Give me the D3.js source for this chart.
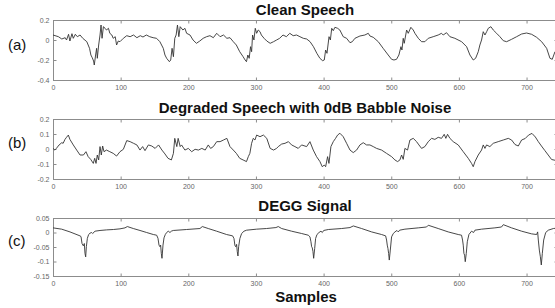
<!DOCTYPE html>
<html>
<head>
<meta charset="utf-8">
<script src="https://cdn.jsdelivr.net/npm/d3@7"></script>
<style>
body { margin: 0; background: #fff; }
svg { display: block; }
text { font-family: "Liberation Sans", Arial, sans-serif; }
</style>
</head>
<body>
<svg id="chart" width="555" height="308"></svg>
<script>
//////////////////////////////////////////////////
// data : [sample, amplitude]

var sampleDomain = [0, 745];
var xTicks = [0, 100, 200, 300, 400, 500, 600, 700];

var cleanTicks = [-0.4, -0.2, 0, 0.2];
var degradedTicks = [-0.2, -0.1, 0, 0.1, 0.2];
var deggTicks = [-0.15, -0.1, -0.05, 0, 0.05];

var titles = ["Clean Speech", "Degraded Speech with 0dB Babble Noise", "DEGG Signal"];
var panelLabels = ["(a)", "(b)", "(c)"];
var xLabel = "Samples";

var cleanSpeech = [
  [0,0.05],[8,0.033],[13,0.01],[18,0.023],[20,0.0],[23,0.057],[25,-0.01],[28,0.063],[30,0.017],[33,0.057],
  [36,0.033],[40,0.05],[44,0.017],[50,-0.017],[54,-0.083],[56,-0.15],[58,-0.177],[60,-0.21],[61,-0.25],[63,-0.15],
  [64.5,-0.083],[65.5,-0.183],[67.5,-0.05],[69.5,0.05],[71,0.15],[72.5,0.017],[74.5,0.133],[77,0.117],[79,0.1],[82,0.117],
  [84,0.067],[87,0.05],[89,0.017],[92,0.033],[94,-0.05],[96.5,-0.01],[99,-0.017],[104,0.017],[109,0.043],[114,0.033],
  [119,0.05],[124,0.023],[129,0.043],[133,0.03],[138,0.05],[143,0.033],[148,0.023],[153,0.017],[158,-0.017],[163,-0.083],
  [165.5,-0.15],[168,-0.183],[172,-0.217],[174,-0.2],[176,-0.083],[178,-0.167],[180,0.017],[182,0.05],[184,0.15],[186,0.033],
  [188,0.133],[192,0.1],[195,0.117],[197.5,0.067],[202.5,0.05],[207,0.0],[212,-0.033],[217,-0.01],[222,0.017],[227,0.033],
  [232,0.043],[237,0.023],[242,0.067],[247,0.033],[252,0.05],[257,0.017],[261.6,0.023],[266.5,-0.017],[271,-0.05],[276,-0.117],
  [281,-0.167],[284,-0.2],[286,-0.217],[288,-0.15],[290,-0.183],[292,-0.067],[293.6,-0.117],[295,0.05],[297,0.0],[299,0.117],
  [301,0.067],[303.4,0.1],[306,0.083],[308,0.05],[312,0.017],[316,-0.01],[321,-0.033],[326,-0.017],[330.5,0.0],[335,0.017],
  [340,0.05],[345,0.033],[350,0.067],[355,0.043],[360,0.05],[365,0.033],[370,0.017],[375,0.01],[380,-0.017],[385,-0.067],
  [390,-0.133],[394.5,-0.183],[398.5,-0.207],[401,-0.2],[403,-0.1],[405,-0.133],[408,0.033],[410,0.0],[412,0.117],[414.3,0.093],
  [416.7,0.127],[420.7,0.117],[424,0.1],[429,0.033],[434,0.017],[439,-0.027],[442.4,-0.017],[446.3,0.017],[453.7,0.04],[461,0.05],
  [466,0.067],[468.5,0.04],[473.4,0.027],[480.8,-0.017],[488,-0.083],[495.5,-0.15],[500.5,-0.193],[504,-0.2],[507.8,-0.193],[511.3,-0.15],
  [514.3,-0.067],[515.8,-0.1],[517.7,0.017],[519.2,-0.033],[522.7,0.1],[525.1,0.067],[529,0.127],[532.5,0.1],[535,0.067],[540,0.017],
  [544.8,-0.017],[549.7,-0.017],[554.7,0.017],[562,0.033],[569.4,0.05],[574.3,0.067],[576.8,0.05],[581.7,0.073],[586.7,0.033],[594,0.017],
  [604,-0.017],[611.4,-0.067],[616.3,-0.15],[621.2,-0.2],[624.7,-0.183],[628.6,-0.117],[631,-0.05],[633.5,0.0],[636,0.083],[638.5,0.05],
  [641,0.083],[643.4,0.117],[647.3,0.133],[650.8,0.1],[655.7,0.067],[660.6,0.033],[665.6,-0.007],[670.5,-0.017],[677.9,0.007],[685.3,0.033],
  [692.7,0.06],[700,0.07],[707.5,0.057],[714.9,0.027],[722.3,-0.017],[729.7,-0.083],[734.6,-0.183],[738,-0.193],[742,-0.117]
];

var degradedSpeech = [
  [0,0.004],[2.6,-0.007],[5,0.004],[9,0.027],[13,0.042],[15,0.038],[17.7,0.064],[20,0.078],[22.7,0.093],[25,0.064],
  [30,0.027],[35,-0.007],[40,-0.04],[45,-0.04],[48.7,-0.018],[52,-0.051],[55.7,-0.069],[59.6,-0.096],[61.6,-0.062],[63.6,-0.096],
  [65.5,-0.04],[67.5,-0.073],[69.5,0.016],[71.4,-0.04],[73.4,0.02],[75.4,-0.018],[79,-0.007],[84,-0.018],[89,-0.029],[94,-0.047],
  [99,-0.018],[104,-0.002],[109,0.056],[114,0.049],[119,0.038],[124,0.027],[128.6,-0.007],[132.5,0.016],[136,-0.011],[141,0.027],
  [146,0.02],[151,0.004],[156,0.027],[161,-0.007],[165.5,-0.033],[170,-0.062],[175,-0.073],[178,-0.029],[180,0.071],[183,0.016],
  [185,0.071],[188,0.016],[190,0.027],[195,-0.007],[200,0.004],[205,-0.018],[210,-0.002],[215,-0.007],[220,0.004],[225,-0.007],
  [229.5,0.027],[233,0.004],[237,0.016],[242,0.049],[247,0.049],[252,0.06],[257,0.071],[261.6,0.016],[266.5,-0.007],[271,-0.029],
  [276,-0.062],[281,-0.073],[286,-0.084],[288.7,-0.051],[291,-0.029],[293.6,0.038],[296,0.071],[298.5,0.06],[301,0.093],[306,0.082],
  [311,0.093],[316,0.071],[321,0.004],[326,-0.007],[330.5,0.004],[333,0.016],[338,0.033],[343,0.038],[348,0.049],[352.7,0.027],
  [357.6,0.016],[362.5,0.004],[367.5,0.027],[374.9,0.016],[379.8,0.049],[384.7,-0.007],[389.6,-0.051],[394.6,-0.084],[398,-0.118],[401,-0.107],
  [403,-0.118],[405.9,-0.051],[407.9,-0.096],[410.8,0.016],[414.3,0.049],[417.7,0.071],[420.7,0.093],[424.1,0.105],[429,0.082],[434,0.038],
  [439,-0.007],[443.8,-0.024],[448.8,-0.007],[453.7,0.027],[458.6,0.042],[463.5,0.027],[468.5,0.027],[473.4,0.016],[478.3,0.004],[485.7,-0.007],
  [493,-0.029],[500.5,-0.051],[505.4,-0.073],[509.3,-0.084],[512.8,-0.073],[515.3,-0.04],[517.7,-0.069],[520.2,0.004],[524.1,-0.007],[527.6,0.06],
  [532.5,0.071],[537.4,0.049],[540.9,0.027],[544.8,0.004],[549.7,0.016],[554.7,0.049],[559.6,0.071],[564.5,0.064],[569.4,0.078],[574.3,0.071],
  [578.3,0.098],[580.7,0.071],[583.2,0.098],[586.7,0.071],[591.6,0.049],[599,0.027],[606.4,-0.018],[613.8,-0.062],[618.7,-0.096],[621.2,-0.118],
  [623.7,-0.084],[628.6,-0.04],[633.5,-0.007],[636,0.027],[638.5,0.004],[640.9,0.027],[645.8,0.016],[650.8,0.038],[658.1,0.049],[665.6,0.06],
  [673,0.071],[677.9,0.06],[682.9,0.03],[687.8,0.02],[692.7,0.06],[698,0.07],[703,0.093],[708,0.104],[713,0.08],[717.4,0.049],
  [722,0.02],[727,-0.01],[732,-0.04],[737,-0.07],[742,-0.075]
];

var deggSignal = [
  [0,0.016],[12.8,0.0115],[25.1,0.002],[39.9,-0.0116],[41.4,-0.014],[42.9,-0.038],[44.8,-0.046],[46.3,-0.038],[47.3,-0.072],[48.3,-0.084],
  [49.3,-0.049],[50.8,-0.02],[52.7,-0.007],[54.7,-0.0024],[57.2,0.0],[58.6,-0.0035],[62.1,0.0045],[69.5,0.007],[79.3,0.009],[89.2,0.0103],
  [99,0.0126],[106.4,0.016],[109.9,0.0205],[118.7,0.0137],[128.6,0.007],[138.4,0.0],[148.3,-0.007],[153.2,-0.0093],[155.2,-0.02],[156.7,-0.0435],
  [158.1,-0.049],[159.1,-0.0435],[160.1,-0.072],[161.1,-0.089],[162.6,-0.0435],[164.1,-0.0185],[166,-0.007],[168,0.0],[170.4,0.0045],[172.9,0.0],
  [174.9,0.0045],[177.8,0.007],[197.5,0.0103],[217.2,0.0137],[220.7,0.0205],[229.5,0.0137],[241.9,0.0045],[256.6,-0.007],[265.5,-0.0116],[267.5,-0.0205],
  [269,-0.046],[270.4,-0.049],[271.4,-0.041],[272.4,-0.066],[273.4,-0.081],[274.4,-0.049],[276.3,-0.0205],[278.8,-0.0035],[282.3,0.0045],[286.2,0.008],
  [301,0.0115],[315.7,0.0137],[329.5,0.017],[333,0.0205],[338,0.0137],[352.7,0.0045],[367.5,-0.0035],[377.3,-0.0093],[379.8,-0.015],[381.3,-0.032],
  [382.3,-0.049],[383.3,-0.053],[384.3,-0.066],[385.3,-0.089],[386.8,-0.055],[388.2,-0.0205],[390.2,-0.007],[393.2,0.0],[396.1,0.0045],[398.1,0.0],
  [400.1,0.007],[407,0.0103],[426.7,0.0137],[439,0.017],[443.9,0.0226],[456.2,0.0137],[471,0.002],[485.7,-0.007],[491.7,-0.0116],[493.1,-0.026],
  [494.1,-0.0435],[495.1,-0.055],[496.1,-0.072],[497.1,-0.095],[498.6,-0.0606],[500.5,-0.015],[503,-0.0035],[505.5,0.002],[508.4,0.007],[510.4,0.002],
  [512.4,0.008],[520.2,0.0115],[539.9,0.016],[552.2,0.019],[554.7,0.025],[569.4,0.0137],[584.2,0.002],[599,-0.007],[603.9,-0.0093],[605.4,-0.026],
  [606.4,-0.0435],[607.4,-0.072],[608.4,-0.078],[609.4,-0.1007],[610.9,-0.072],[612.4,-0.032],[614.8,-0.007],[618.7,0.0045],[621.7,0.0],[623.7,0.008],
  [633.5,0.0115],[653.2,0.016],[663,0.019],[665.6,0.027],[677.9,0.016],[692.7,0.0045],[707.5,-0.0047],[714.9,-0.007],[716.4,0.002],[717.4,-0.026],
  [718.9,-0.0606],[720.4,-0.0835],[721.8,-0.112],[723.3,-0.072],[725.3,-0.026],[728.3,0.0],[732.2,0.008],[739.6,0.0137],[745,0.015]
];

//////////////////////////////////////////////////
// layout

var left = 53, right = 557;
var panels = [
  { data: cleanSpeech,    ticks: cleanTicks,    top: 20,  bottom: 80,  titleY: 15,  labelY: 50 },
  { data: degradedSpeech, ticks: degradedTicks, top: 119, bottom: 179, titleY: 113, labelY: 148 },
  { data: deggSignal,     ticks: deggTicks,     top: 218, bottom: 276, titleY: 211, labelY: 246 }
];

var svg = d3.select("#chart");
svg.append("rect").attr("width", 555).attr("height", 308).attr("fill", "#fff");

var x = d3.scaleLinear().domain(sampleDomain).range([left, right]);
var fmt = function(d){ return String(d); };

function styleAxis(g){
  g.select(".domain").remove();
  g.selectAll(".tick line").attr("stroke", "#8c8c8c");
  g.selectAll(".tick text").attr("fill", "#666").style("font-size", "7px");
}

panels.forEach(function(p, i){
  var y = d3.scaleLinear().domain(d3.extent(p.ticks)).range([p.bottom, p.top]);
  var g = svg.append("g");

  // 枠
  g.append("rect")
    .attr("x", left + 0.5).attr("y", p.top + 0.5)
    .attr("width", right - left).attr("height", p.bottom - p.top)
    .attr("fill", "none").attr("stroke", "#8c8c8c").attr("stroke-width", 1);

  g.append("g").attr("transform", "translate(0," + (p.bottom + 0.5) + ")")
    .call(d3.axisBottom(x).tickValues(xTicks).tickFormat(fmt).tickSizeInner(-3).tickSizeOuter(0).tickPadding(5))
    .call(styleAxis);
  g.append("g").attr("transform", "translate(0," + (p.top + 0.5) + ")")
    .call(d3.axisTop(x).tickValues(xTicks).tickFormat("").tickSizeInner(-3).tickSizeOuter(0))
    .call(styleAxis);
  g.append("g").attr("transform", "translate(" + (left + 0.5) + ",0)")
    .call(d3.axisLeft(y).tickValues(p.ticks).tickFormat(fmt).tickSizeInner(-3).tickSizeOuter(0).tickPadding(4))
    .call(styleAxis);
  g.append("g").attr("transform", "translate(" + (right + 0.5) + ",0)")
    .call(d3.axisRight(y).tickValues(p.ticks).tickFormat("").tickSizeInner(-3).tickSizeOuter(0))
    .call(styleAxis);

  // 波形
  g.append("path").datum(p.data)
    .attr("fill", "none").attr("stroke", "#333").attr("stroke-width", 0.9)
    .attr("stroke-linejoin", "round")
    .attr("d", d3.line().x(function(d){ return x(d[0]); }).y(function(d){ return y(d[1]); }));

  g.append("text").attr("x", 305).attr("y", p.titleY)
    .attr("text-anchor", "middle").style("font-size", "15px").style("font-weight", "bold")
    .attr("fill", "#111").text(titles[i]);

  g.append("text").attr("x", 8).attr("y", p.labelY)
    .style("font-size", "15px").attr("fill", "#111").text(panelLabels[i]);
});

svg.append("text").attr("x", 306).attr("y", 302)
  .attr("text-anchor", "middle").style("font-size", "15px").style("font-weight", "bold")
  .attr("fill", "#111").text(xLabel);
</script>
</body>
</html>
